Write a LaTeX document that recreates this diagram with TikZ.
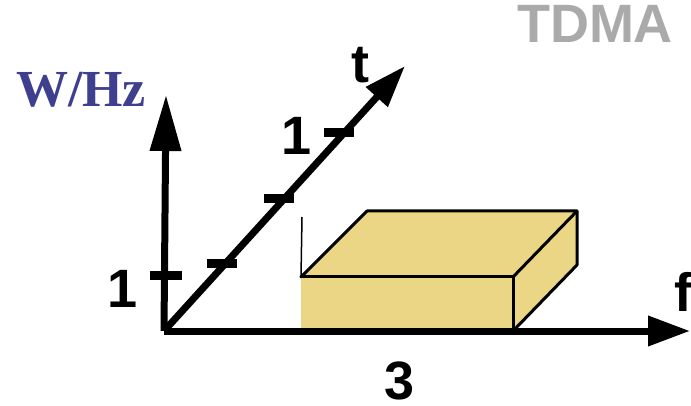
\documentclass[tikz,border=0pt]{standalone}
\usepackage{fontspec}
\setmainfont{Liberation Sans}
\newfontfamily\unitfont{Liberation Serif}
\usetikzlibrary{arrows.meta}
\definecolor{slab}{HTML}{EBD686}
\definecolor{unitblue}{HTML}{3F3F8F}
\definecolor{titlegray}{HTML}{AAAAAA}

\begin{document}
\begin{tikzpicture}[
  x=1pt, y=-1pt,
  lbl/.style={font=\fontsize{54}{60}\selectfont\bfseries, inner sep=0pt, anchor=base},
  axis/.style={draw=black, line width=7pt},
  tickmark/.style={fill=black, inner sep=0pt, minimum width=30pt, minimum height=9pt},
  rim/.style={draw=black, line width=3pt, line join=round, line cap=round}
]
\useasboundingbox (0,0) rectangle (691,406);

% slab: 3 along f, 1 along W/Hz, 1 along t
\coordinate (fl) at (301,331);
\coordinate (fr) at (513,331);
\coordinate (tl) at (301,277);
\coordinate (tr) at (513,277);
\coordinate (bl) at (367,211);
\coordinate (br) at (577,211);
\coordinate (bb) at (577,265);
\coordinate (hid) at (302,217);
\fill[slab] (fl) -- (tl) -- (bl) -- (br) -- (bb) -- (fr) -- cycle;
\draw[line width=1.5pt] (tl) -- (hid);
\draw[rim] (tl) -- (tr) -- (fr);
\draw[rim] (tl) -- (bl) -- (br) -- (bb) -- (fr);
\draw[rim] (tr) -- (br);

% axes
\coordinate (O) at (164,331);
\coordinate (wtip) at (166,95);
\coordinate (ftip) at (690,331);
\coordinate (ttip) at (405,66);
\draw[axis, -{Triangle[length=56pt,width=30pt]}] (O) -- (wtip);
\draw[axis, -{Triangle[length=42pt,width=29pt]}] (O) -- (ftip);
\draw[axis, -{Triangle[length=42pt,width=28pt]}] (O) -- (ttip);

% ticks
\node[tickmark, minimum width=32pt] (w1) at (166,276) {};
\foreach \n/\x/\y in {1/222/264, 2/279/199, 3/339/133}
  \node[tickmark] (t\n) at (\x,\y) {};

% labels
\node[lbl] (wone) at (123,307) {1};
\node[lbl] (tone) at (297,155) {1};
\node[lbl] (tlab) at (360,83) {t};
\node[lbl] (flab) at (683,312) {f};
\node[lbl] (fthree) at (400,399) {3};
\node[lbl, text=titlegray] (title) at (595,43) {TDMA};
\node[lbl, font=\unitfont\fontsize{52}{60}\selectfont\bfseries, text=unitblue] (unit) at (81,107) {W/Hz};
\end{tikzpicture}
\end{document}
